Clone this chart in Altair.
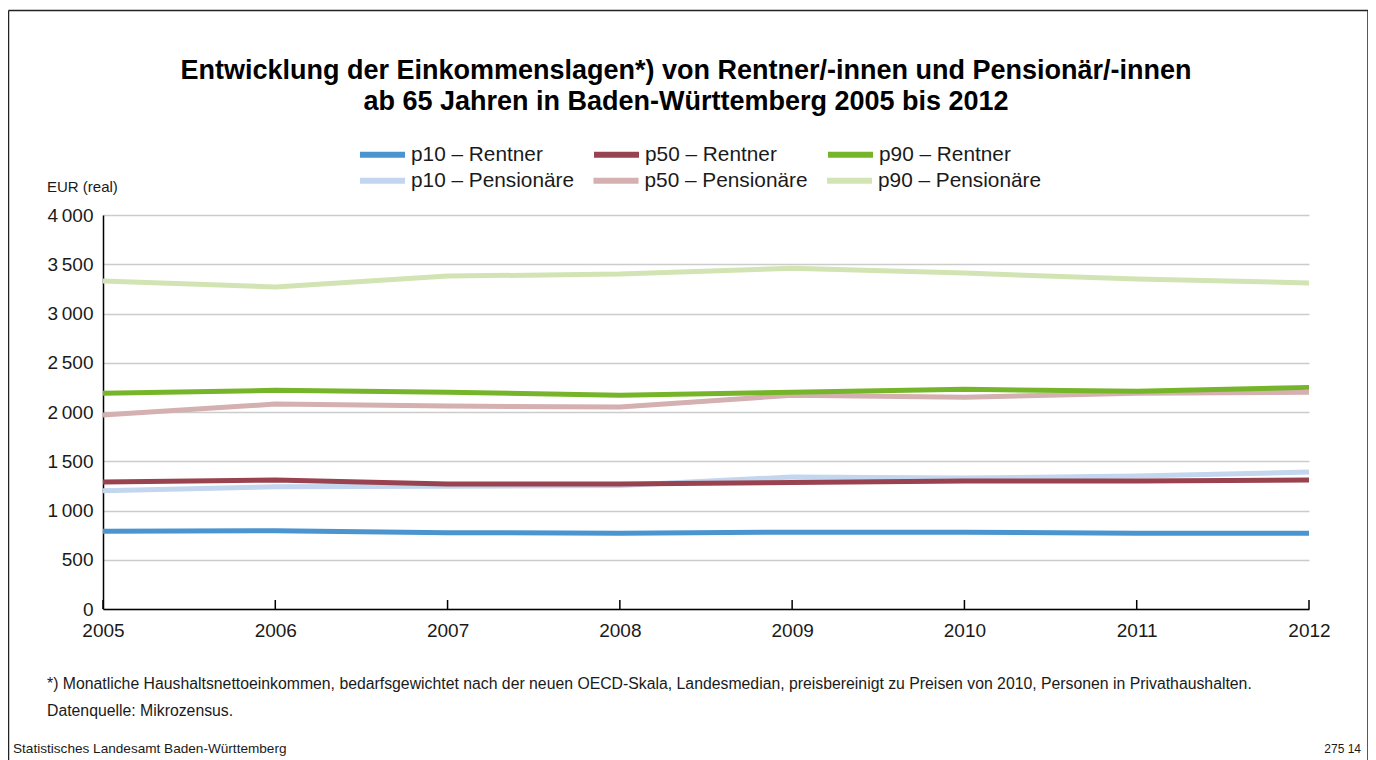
import altair as alt
import pandas as pd

# ---------------- data ----------------
years = [2005, 2006, 2007, 2008, 2009, 2010, 2011, 2012]

rentner_names = ["p10 – Rentner", "p50 – Rentner", "p90 – Rentner"]
pens_names = ["p10 – Pensionäre", "p50 – Pensionäre", "p90 – Pensionäre"]
rentner_colors = ["#4a94d0", "#98434f", "#76b52a"]
pens_colors = ["#c2d6ef", "#d4b0b1", "#d2e4b4"]

p10_rentner = [790, 795, 775, 770, 780, 780, 770, 770]
p50_rentner = [1290, 1310, 1270, 1270, 1285, 1300, 1300, 1310]
p90_rentner = [2190, 2220, 2200, 2170, 2200, 2230, 2210, 2250]
p10_pensionaere = [1200, 1240, 1245, 1255, 1340, 1330, 1350, 1390]
p50_pensionaere = [1970, 2080, 2060, 2050, 2170, 2150, 2190, 2200]
p90_pensionaere = [3330, 3270, 3380, 3400, 3460, 3410, 3350, 3310]

y_ticks = [0, 500, 1000, 1500, 2000, 2500, 3000, 3500, 4000]

title_lines = ["Entwicklung der Einkommenslagen*) von Rentner/-innen und Pensionär/-innen",
               "ab 65 Jahren in Baden-Württemberg 2005 bis 2012"]
y_unit = "EUR (real)"
footnote = ("*) Monatliche Haushaltsnettoeinkommen, bedarfsgewichtet nach der neuen OECD-Skala, "
            "Landesmedian, preisbereinigt zu Preisen von 2010, Personen in Privathaushalten.")
source = "Datenquelle: Mikrozensus."
publisher = "Statistisches Landesamt Baden-Württemberg"
chart_no = "275 14"

# ---------------- tables ----------------
def make_table(names, value_lists):
    rows = []
    for name, vals in zip(names, value_lists):
        for yr, v in zip(years, vals):
            rows.append({"Jahr": yr, "Wert": v, "Reihe": name})
    return pd.DataFrame(rows)


df_rent = make_table(rentner_names, [p10_rentner, p50_rentner, p90_rentner])
df_pens = make_table(pens_names, [p10_pensionaere, p50_pensionaere, p90_pensionaere])
tick_df = pd.DataFrame({"Jahr": years})

W, H = 1206, 394
FONT = "Liberation Sans"
TXT = "#1a1a1a"

x_enc = alt.X("Jahr:Q",
              scale=alt.Scale(domain=[2005, 2012], nice=False, zero=False),
              axis=alt.Axis(values=years, format="d", title=None, grid=False,
                            ticks=False, labelFlush=False, labelFontSize=19,
                            labelFont=FONT, labelColor=TXT, labelPadding=12,
                            domainColor="#000", domainWidth=1.5))
y_enc = alt.Y("Wert:Q",
              scale=alt.Scale(domain=[0, 4000], nice=False, zero=True),
              axis=alt.Axis(values=y_ticks,
                            labelExpr="replace(format(datum.value, ','), ',', '\u2009')",
                            title=None, ticks=False, grid=True,
                            gridColor="#cccccc", gridWidth=1.3,
                            labelFlush=False, labelFontSize=19, labelFont=FONT,
                            labelColor=TXT, labelPadding=10,
                            domainColor="#000", domainWidth=1.5))


def legend(ly, col_pad):
    return alt.Legend(orient="none", legendX=254, legendY=ly,
                      columns=3, title=None, direction="horizontal",
                      symbolType="stroke", symbolSize=2025,
                      symbolStrokeWidth=6, labelFontSize=20.8,
                      labelFont=FONT, labelColor=TXT, labelLimit=400,
                      labelOffset=3, columnPadding=col_pad, padding=0)


pens = (alt.Chart(df_pens)
        .mark_line(strokeWidth=5, strokeJoin="round")
        .encode(x=x_enc, y=y_enc,
                stroke=alt.Stroke("Reihe:N",
                                  scale=alt.Scale(domain=pens_names, range=pens_colors),
                                  sort=pens_names, legend=legend(-60, 6.5))))
rent = (alt.Chart(df_rent)
        .mark_line(strokeWidth=5, strokeJoin="round")
        .encode(x=x_enc, y=y_enc,
                color=alt.Color("Reihe:N",
                                scale=alt.Scale(domain=rentner_names, range=rentner_colors),
                                sort=rentner_names, legend=legend(-86, 39))))

ticks = (alt.Chart(tick_df).mark_rule(color="#000", strokeWidth=1.5)
         .encode(x=x_enc, y=alt.value(H), y2=alt.value(H - 9)))

one = alt.Data(values=[{"k": 1}])


def text_mark(t, xp, yp, size, weight="normal", align="left", baseline="middle"):
    return (alt.Chart(one)
            .mark_text(text=t, font=FONT, fontSize=size, fontWeight=weight,
                       align=align, baseline=baseline,
                       color="#000" if weight == "bold" else TXT)
            .encode(x=alt.value(xp), y=alt.value(yp)))


texts = [
    text_mark(title_lines[0], 583, -136, 27, "bold", "center", "alphabetic"),
    text_mark(title_lines[1], 583, -105, 27, "bold", "center", "alphabetic"),
    text_mark(y_unit, -56, -28, 15),
    text_mark(footnote, -56, 469, 15.8),
    text_mark(source, -56, 496, 15.8),
    text_mark(publisher, -90, 534, 13.6),
    text_mark(chart_no, 1258, 534, 12, align="right"),
]

frame_top = (alt.Chart(one).mark_rule(color="#222", strokeWidth=1.5)
             .encode(x=alt.value(-94.5), x2=alt.value(1265), y=alt.value(-204.5)))
frame_left = (alt.Chart(one).mark_rule(color="#222", strokeWidth=1.5)
              .encode(x=alt.value(-94.5), y=alt.value(-204.5), y2=alt.value(560)))
frame_right = (alt.Chart(one).mark_rule(color="#222", strokeWidth=1.5)
               .encode(x=alt.value(1265), y=alt.value(-204.5), y2=alt.value(560)))

chart = (alt.layer(frame_top, frame_left, frame_right, pens, rent, ticks, *texts)
         .properties(width=W, height=H, autosize="none",
                     padding={"left": 95, "top": 207, "right": 59, "bottom": 151},
                     background="white")
         .configure_view(strokeWidth=0))

chart.save("out.html", embed_options={"renderer": "svg", "actions": False})
